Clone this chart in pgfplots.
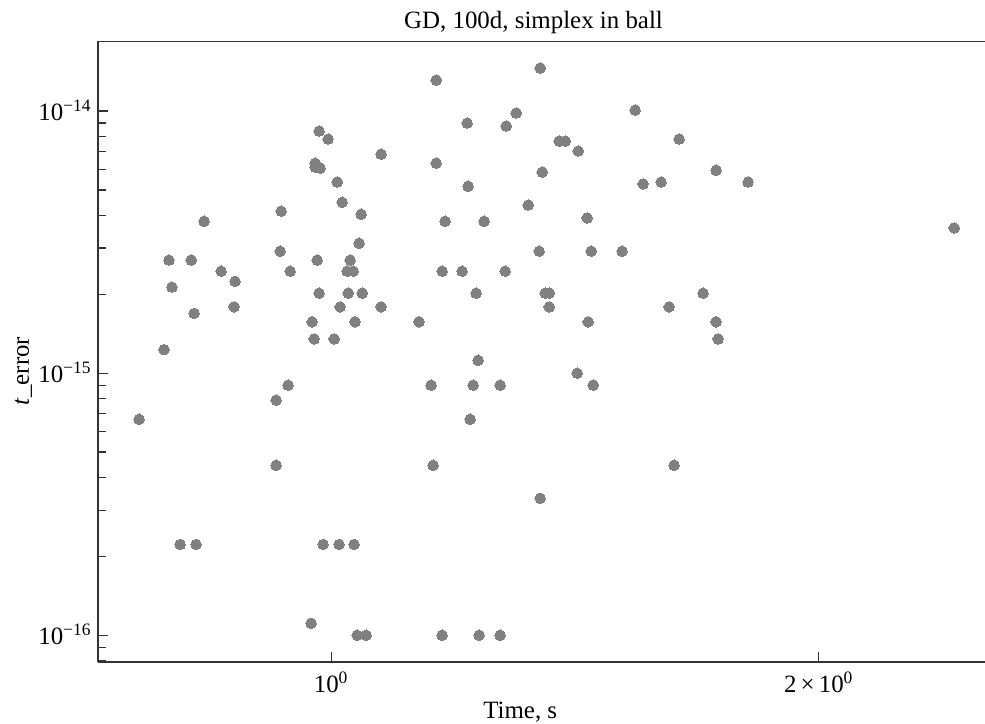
\documentclass[border=0pt]{standalone}
\usepackage{fontspec}
\setmainfont{Liberation Serif}
\usepackage{pgfplots}
\pgfplotsset{compat=1.18}
\definecolor{dotgray}{HTML}{808080}
\definecolor{axgray}{HTML}{333333}
\pgfplotstableread{
x y
0.7612 6.67e-16
0.7887 1.23e-15
0.7943 2.70e-15
0.7977 2.13e-15
0.8069 2.22e-16
0.8196 2.70e-15
0.8231 1.69e-15
0.8254 2.22e-16
0.8348 3.80e-15
0.8553 2.45e-15
0.8712 1.79e-15
0.8724 2.24e-15
0.9248 7.89e-16
0.9248 4.45e-16
0.9301 2.92e-15
0.9314 4.15e-15
0.9407 9.00e-16
0.9434 2.45e-15
0.9720 1.11e-16
0.9734 1.57e-15
0.9761 1.35e-15
0.9775 6.33e-15
0.9775 6.11e-15
0.9845 6.06e-15
0.9803 2.70e-15
0.9831 8.39e-15
0.9831 2.02e-15
0.9887 2.22e-16
0.9957 7.82e-15
1.0043 1.35e-15
1.0086 5.36e-15
1.0114 2.22e-16
1.0129 1.79e-15
1.0158 4.49e-15
1.0230 2.45e-15
1.0318 2.45e-15
1.0245 2.02e-15
1.0274 2.70e-15
1.0332 2.22e-16
1.0347 1.57e-15
1.0377 1.00e-16
1.0406 3.13e-15
1.0436 4.04e-15
1.0451 2.02e-15
1.0510 1.00e-16
1.0736 6.85e-15
1.0736 1.79e-15
1.1332 1.57e-15
1.1527 9.00e-16
1.1560 4.45e-16
1.1610 1.313e-14
1.1610 6.33e-15
1.1709 2.45e-15
1.1709 1.00e-16
1.1759 3.80e-15
1.2046 2.45e-15
1.2132 9.00e-15
1.2149 5.17e-15
1.2184 6.67e-16
1.2236 9.00e-16
1.2288 2.02e-15
1.2323 1.12e-15
1.2341 1.00e-16
1.2429 3.80e-15
1.2715 9.00e-16
1.2715 1.00e-16
1.2806 2.45e-15
1.2824 8.77e-15
1.3008 9.83e-15
1.3232 4.38e-15
1.3441 2.92e-15
1.3460 1.459e-14
1.3460 3.33e-16
1.3498 5.85e-15
1.3556 2.02e-15
1.3634 2.02e-15
1.3634 1.79e-15
1.3829 7.68e-15
1.3948 7.68e-15
1.4187 1.00e-15
1.4208 7.04e-15
1.4390 3.91e-15
1.4411 1.57e-15
1.4473 2.92e-15
1.4514 9.00e-16
1.5123 2.92e-15
1.5405 1.0088e-14
1.5582 5.27e-15
1.5985 5.36e-15
1.6168 1.79e-15
1.6283 4.45e-16
1.6399 7.82e-15
1.6968 2.02e-15
1.7285 5.95e-15
1.7285 1.57e-15
1.7334 1.35e-15
1.8088 5.36e-15
2.4242 3.58e-15
}\pts
\begin{document}
\begin{tikzpicture}[font=\fontsize{12.5}{15}\selectfont]
\useasboundingbox (-49bp,-31bp) rectangle (443.5bp,331bp);
\begin{axis}[
  at={(0,0)}, anchor=south west,
  scale only axis, width=443.5bp, height=310.5bp,
  xmode=log, ymode=log,
  xmin=0.718, xmax=2.533, ymin=7.9e-17, ymax=1.85e-14,
  axis x line*=bottom, axis y line*=left,
  axis line style={axgray, line width=0.75bp},
  tick style={axgray, line width=0.6bp},
  tick align=inside,
  major tick length=5bp, minor tick length=3.8bp,
  xtick={1,2},
  xticklabels={10\textsuperscript{0}, 2\,×\,10\textsuperscript{0}},
  xminorticks=false,
  ytick={1e-16,1e-15,1e-14},
  yticklabels={10\textsuperscript{−16}, 10\textsuperscript{−15}, 10\textsuperscript{−14}},
  minor ytick={8e-17,9e-17,2e-16,3e-16,4e-16,5e-16,6e-16,7e-16,8e-16,9e-16,2e-15,3e-15,4e-15,5e-15,6e-15,7e-15,8e-15,9e-15},
  xticklabel style={anchor=base, inner sep=0pt, yshift=-15bp},
  yticklabel style={anchor=base east, inner sep=0pt, xshift=-3bp, yshift=-4.5bp},
  every axis title shift=0pt,
  title={GD, 100d, simplex in ball},
  title style={at={(axis description cs:0.491,1)}, anchor=base, yshift=6.5bp, inner sep=0pt},
  xlabel={Time, s},
  xlabel style={at={(axis description cs:0.476,0)}, anchor=base, yshift=-28bp, inner sep=0pt},
  ylabel={\textit{t}\_error},
  ylabel style={at={(axis description cs:-0.0778,0.4686)}, anchor=base, inner sep=0pt},
]
\addplot[only marks, color=dotgray, mark=*, mark size=2.65bp, mark options={fill=dotgray, draw=dotgray, line width=0pt}] table[x=x, y=y] {\pts};
\draw[axgray, line width=0.75bp] (rel axis cs:0,1) -- (rel axis cs:1,1);
\end{axis}
\end{tikzpicture}
\end{document}
